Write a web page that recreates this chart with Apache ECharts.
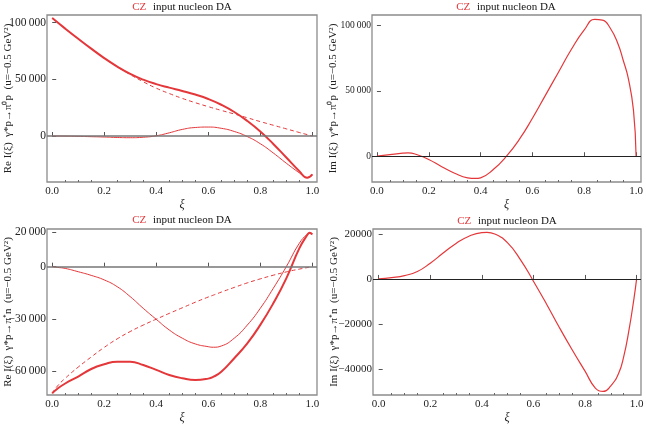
<!DOCTYPE html>
<html>
<head>
<meta charset="utf-8">
<script src="https://cdn.jsdelivr.net/npm/echarts@6/dist/echarts.min.js"></script>
<style>
  html, body { margin: 0; padding: 0; background: #fff; }
  #chart { width: 646px; height: 429px; }
</style>
</head>
<body>
<div id="chart"></div>
<script>
// ---- data ----
// top left: Re I(xi), gamma* p -> pi0 p
const xiA = [0, 0.05, 0.1, 0.15, 0.2, 0.25, 0.3, 0.35, 0.4, 0.45, 0.5, 0.55, 0.6, 0.65, 0.7, 0.75, 0.8, 0.85, 0.9, 0.95, 0.98, 1.0]
const rePi0Total = [104100, 94800, 85800, 77100, 68800, 61300, 54800, 49700, 45800, 42700, 39800, 36600, 32700, 27600, 21200, 13300, 4000, -7000, -19000, -31000, -36800, -33800]
const rePi0Dashed = [104100, 94800, 85800, 77100, 68800, 61200, 54200, 47900, 42200, 37500, 33200, 29400, 25900, 22600, 19400, 16100, 12700, 9500, 6300, 3100, 1250, 0]
const rePi0Thin = [0, -100, -300, -600, -900, -1300, -1500, -1100, 200, 2800, 5800, 7500, 7900, 6800, 4000, -500, -6800, -15000, -24000, -32500, -36800, -33800]

// top right: Im I(xi), gamma* p -> pi0 p
const xiB = [0, 0.05, 0.1, 0.12, 0.15, 0.2, 0.25, 0.3, 0.35, 0.38, 0.4, 0.45, 0.5, 0.55, 0.6, 0.65, 0.7, 0.75, 0.8, 0.84, 0.87, 0.9, 0.93, 0.95, 0.97, 0.99, 1.0]
const imPi0 = [0, 1200, 2300, 2500, 1500, -2500, -8000, -13000, -16500, -17000, -16500, -10000, 0, 13000, 29000, 46500, 64000, 81500, 96500, 104500, 104000, 98000, 86000, 73500, 59500, 35000, 0]

// bottom left: Re I(xi), gamma* p -> pi+ n
const xiC = [0, 0.02, 0.05, 0.1, 0.15, 0.2, 0.25, 0.3, 0.35, 0.4, 0.45, 0.5, 0.55, 0.6, 0.62, 0.65, 0.7, 0.75, 0.8, 0.85, 0.9, 0.95, 0.98, 0.99, 1.0]
const rePipTotal = [-72600, -70000, -67000, -63000, -58700, -56000, -54500, -54500, -56400, -59200, -62100, -64000, -65000, -64200, -63100, -60300, -52500, -44000, -33400, -21000, -6700, 10500, 18000, 19500, 18500]
const rePipDashed = [-72600, -68500, -64000, -57600, -51800, -46300, -41400, -37200, -33500, -30100, -26800, -23600, -20400, -17400, -16300, -14600, -11900, -9300, -7000, -4900, -3000, -1400, -550, -270, 0]
const rePipThin = [0, -400, -1000, -2900, -5000, -7600, -11500, -17200, -23900, -30200, -36300, -41000, -44300, -45900, -46200, -45500, -41000, -33500, -23900, -12400, 0, 13400, 18500, 19000, 18200]

// bottom right: Im I(xi), gamma* p -> pi+ n
const xiD = [0, 0.05, 0.1, 0.15, 0.2, 0.25, 0.3, 0.35, 0.4, 0.42, 0.45, 0.5, 0.55, 0.6, 0.65, 0.7, 0.75, 0.8, 0.84, 0.87, 0.9, 0.93, 0.95, 0.97, 0.99, 1.0]
const imPip = [0, 600, 1500, 3300, 7000, 11500, 15800, 19000, 20600, 20700, 20000, 16000, 8500, -1000, -11000, -21500, -31500, -41000, -48500, -50000, -47500, -42000, -34500, -23000, -8500, 0]

// ticks
const xTicks = [0, 0.2, 0.4, 0.6, 0.8, 1.0]
const xMinorTicks = [0.05, 0.1, 0.15, 0.25, 0.3, 0.35, 0.45, 0.5, 0.55, 0.65, 0.7, 0.75, 0.85, 0.9, 0.95]
const yTicksA = [0, 50000, 100000]
const yLabelsA = ['0', '50\u2009000', '100\u2009000']
const yTicksB = [0, 50000, 100000]
const yLabelsB = ['0', '50\u2009000', '100\u2009000']
const yTicksC = [-60000, -30000, 0, 20000]
const yLabelsC = ['\u221260\u2009000', '\u221230\u2009000', '0', '20\u2009000']
const yTicksD = [-40000, -20000, 0, 20000]
const yLabelsD = ['\u221240000', '\u221220000', '0', '20000']

const RED = '#e4373a'
const FONT = 'Liberation Serif'

// panel frames (pixels) and axis ranges
const panels = [
  { left: 47, top: 15, width: 270, height: 167, xmin: -0.02, xmax: 1.018, ymin: -40600, ymax: 106800,
    yTicks: yTicksA, yLabels: yLabelsA, ySize: 11.5, name: 'Re I(\u03be)  \u03b3*p\u2192\u03c0\u2070p  (u=\u22120.5 GeV\u00b2)',
    title: [182, 7], zero: { color: '#767676', width: 1.6 } },
  { left: 372, top: 15, width: 269, height: 167, xmin: -0.019, xmax: 1.019, ymin: -19700, ymax: 107900,
    yTicks: yTicksB, yLabels: yLabelsB, ySize: 9.5, name: 'Im I(\u03be)  \u03b3*p\u2192\u03c0\u2070p  (u=\u22120.5 GeV\u00b2)',
    title: [506, 7], zero: { color: '#222', width: 1 } },
  { left: 47, top: 229, width: 270, height: 166, xmin: -0.02, xmax: 1.018, ymin: -73600, ymax: 21600,
    yTicks: yTicksC, yLabels: yLabelsC, ySize: 11.5, name: 'Re I(\u03be)  \u03b3*p\u2192\u03c0\u207an  (u=\u22120.5 GeV\u00b2)',
    title: [182, 220], zero: { color: '#767676', width: 1.6 } },
  { left: 373, top: 229, width: 268, height: 166, xmin: -0.022, xmax: 1.017, ymin: -51600, ymax: 22200,
    yTicks: yTicksD, yLabels: yLabelsD, ySize: 11, name: 'Im I(\u03be)  \u03b3*p\u2192\u03c0\u207an  (u=\u22120.5 GeV\u00b2)',
    title: [507, 221], zero: { color: '#222', width: 1 } }
]

function pairs (xs, ys) {
  return xs.map((x, i) => [x, ys[i]])
}

const grid = []
const xAxis = []
const yAxis = []
const graphic = []

panels.forEach((p, i) => {
  grid.push({
    left: p.left, top: p.top, width: p.width, height: p.height,
    show: true, borderColor: '#8c8c8c', borderWidth: 1.3,
    containLabel: false, outerBoundsMode: 'none'
  })
  // major ticks + labels
  xAxis.push({
    type: 'value', gridIndex: i, min: p.xmin, max: p.xmax,
    axisLine: { show: false }, splitLine: { show: false },
    axisTick: { inside: true, length: 4, customValues: xTicks, lineStyle: { color: '#555' } },
    axisLabel: { customValues: xTicks, formatter: v => v.toFixed(1), margin: 4,
      color: '#222', fontFamily: FONT, fontSize: 11 },
    name: '\u03be', nameLocation: 'middle', nameGap: 17, nameMoveOverlap: false,
    nameTextStyle: { fontFamily: FONT, fontStyle: 'italic', fontSize: 12, color: '#222' }
  })
  // minor ticks
  xAxis.push({
    type: 'value', gridIndex: i, min: p.xmin, max: p.xmax, position: 'bottom',
    axisLine: { show: false }, splitLine: { show: false }, axisLabel: { show: false },
    axisTick: { inside: true, length: 2, customValues: xMinorTicks, lineStyle: { color: '#666' } }
  })
  yAxis.push({
    type: 'value', gridIndex: i, min: p.ymin, max: p.ymax,
    axisLine: { show: false }, splitLine: { show: false },
    axisTick: { inside: true, length: 4, customValues: p.yTicks, lineStyle: { color: '#555' } },
    axisLabel: { customValues: p.yTicks, formatter: v => p.yLabels[p.yTicks.indexOf(v)], margin: 1,
      color: '#222', fontFamily: FONT, fontSize: p.ySize },
    name: p.name, nameLocation: 'middle', nameRotate: 90, nameGap: 33, nameMoveOverlap: false,
    nameTextStyle: { fontFamily: FONT, fontSize: 11, color: '#222' }
  })
  graphic.push({
    type: 'text', x: p.title[0], y: p.title[1],
    style: {
      text: '{r|CZ}  {b|input nucleon DA}',
      align: 'center', verticalAlign: 'middle',
      rich: {
        r: { fill: RED, fontFamily: FONT, fontSize: 11 },
        b: { fill: '#111', fontFamily: FONT, fontSize: 11 }
      }
    }
  })
})

function curve (panel, xs, ys, width, dashed, zero) {
  const s = {
    type: 'line', xAxisIndex: panel * 2, yAxisIndex: panel,
    data: pairs(xs, ys), smooth: true, showSymbol: false, symbol: 'none', silent: true,
    lineStyle: { color: RED, width: width, type: dashed ? [4, 3] : 'solid' },
    z: 3
  }
  if (zero) {
    s.markLine = {
      silent: true, symbol: 'none', label: { show: false }, animation: false,
      lineStyle: { color: zero.color, width: zero.width, type: 'solid' },
      data: [{ yAxis: 0 }]
    }
  }
  return s
}

const series = [
  curve(0, xiA, rePi0Thin, 1, false, panels[0].zero),
  curve(0, xiA, rePi0Dashed, 1, true),
  curve(0, xiA, rePi0Total, 2),
  curve(1, xiB, imPi0, 1.2, false, panels[1].zero),
  curve(2, xiC, rePipThin, 1, false, panels[2].zero),
  curve(2, xiC, rePipDashed, 1, true),
  curve(2, xiC, rePipTotal, 2),
  curve(3, xiD, imPip, 1.2, false, panels[3].zero)
]

const chart = echarts.init(document.getElementById('chart'))
chart.setOption({
  animation: false,
  backgroundColor: '#fff',
  grid: grid,
  xAxis: xAxis,
  yAxis: yAxis,
  graphic: graphic,
  series: series
})
</script>
</body>
</html>
